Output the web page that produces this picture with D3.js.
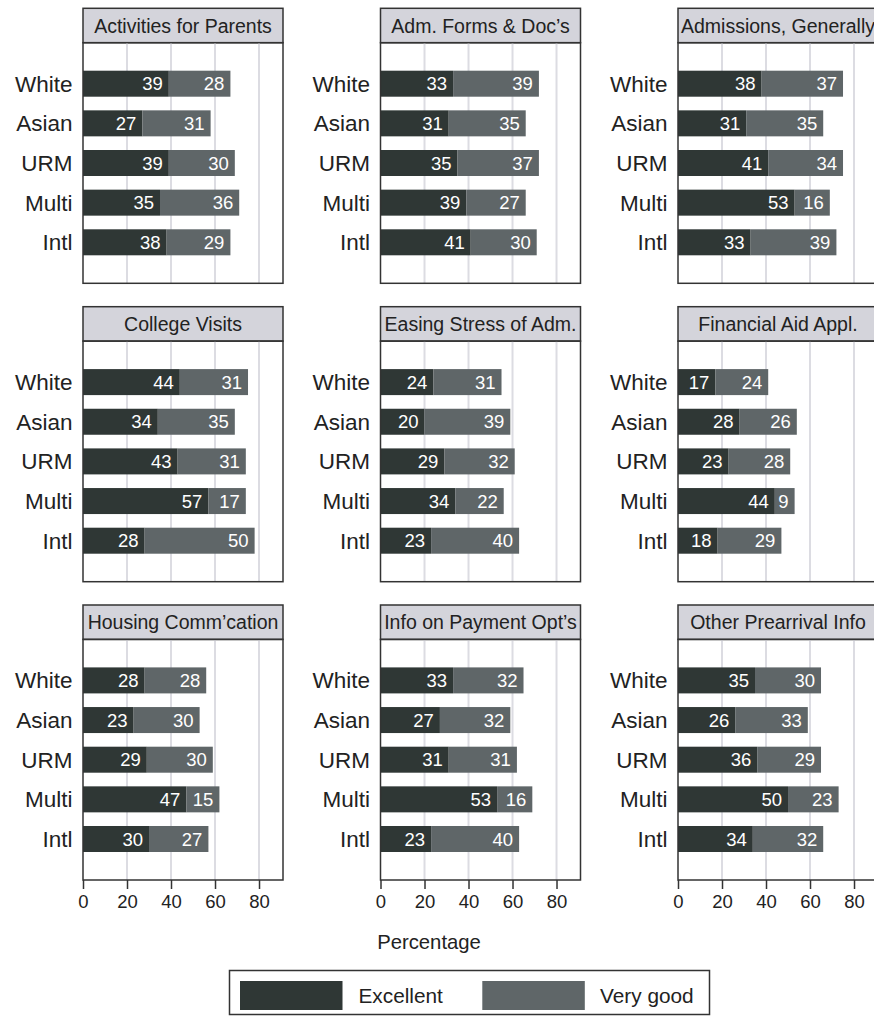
<!DOCTYPE html>
<html>
<head>
<meta charset="utf-8">
<script src="https://cdn.jsdelivr.net/npm/d3@7"></script>
<style>
  html, body { margin: 0; padding: 0; background: #fff; }
  svg { display: block; font-family: "Liberation Sans", Arial, Helvetica, sans-serif; }
</style>
</head>
<body>
<svg id="chart" width="874" height="1016"></svg>
<script>
const panels = [
  "Activities for Parents", "Adm. Forms & Doc\u2019s", "Admissions, Generally",
  "College Visits", "Easing Stress of Adm.", "Financial Aid Appl.",
  "Housing Comm\u2019cation", "Info on Payment Opt\u2019s", "Other Prearrival Info"
];
const groups = ["White", "Asian", "URM", "Multi", "Intl"];
const seriesNames = ["Excellent", "Very good"];
// per panel, per group
const excellent = [
  [39, 27, 39, 35, 38],
  [33, 31, 35, 39, 41],
  [38, 31, 41, 53, 33],
  [44, 34, 43, 57, 28],
  [24, 20, 29, 34, 23],
  [17, 28, 23, 44, 18],
  [28, 23, 29, 47, 30],
  [33, 27, 31, 53, 23],
  [35, 26, 36, 50, 34]
];
const veryGood = [
  [28, 31, 30, 36, 29],
  [39, 35, 37, 27, 30],
  [37, 35, 34, 16, 39],
  [31, 35, 31, 17, 50],
  [31, 39, 32, 22, 40],
  [24, 26, 28, 9, 29],
  [28, 30, 30, 15, 27],
  [32, 32, 31, 16, 40],
  [30, 33, 29, 23, 32]
];
const tickValues = [0, 20, 40, 60, 80];
const xAxisTitle = "Percentage";

const colors = { "Excellent": "#2f3735", "Very good": "#5f6668" };
const svg = d3.select("#chart");

const panelW = 200, headerH = 34.4, plotH = 240.6;
const colX = [83, 380.5, 678];
const rowY = [8.3, 306.7, 605];

const x = d3.scaleLinear().domain([0, 90.9]).range([0, panelW]);
const y = d3.scalePoint().domain(groups).range([0, plotH]).padding(1.034);
const barH = 26;

panels.forEach((title, i) => {
  const col = i % 3, row = Math.floor(i / 3);
  const g = svg.append("g").attr("transform", `translate(${colX[col]},${rowY[row]})`);
  // header
  g.append("rect").attr("x", 0).attr("y", 0).attr("width", panelW).attr("height", headerH)
    .attr("fill", "#d4d4db").attr("stroke", "#333").attr("stroke-width", 1.5);
  g.append("text").attr("x", panelW / 2).attr("y", headerH / 2).attr("dy", "0.36em")
    .attr("text-anchor", "middle").attr("font-size", 19.5).attr("fill", "#222").text(title);

  const p = g.append("g").attr("transform", `translate(0,${headerH})`);
  // grid
  p.selectAll("line.grid").data(tickValues.filter(t => t > 0)).join("line")
    .attr("x1", d => x(d)).attr("x2", d => x(d)).attr("y1", 0).attr("y2", plotH)
    .attr("stroke", "#dcdce2").attr("stroke-width", 2);

  // bars
  groups.forEach((grp, j) => {
    const e = excellent[i][j], v = veryGood[i][j];
    const cy = y(grp);
    p.append("rect").attr("x", x(0)).attr("y", cy - barH / 2).attr("width", x(e) - x(0)).attr("height", barH)
      .attr("fill", colors["Excellent"]);
    p.append("rect").attr("x", x(e)).attr("y", cy - barH / 2).attr("width", x(e + v) - x(e)).attr("height", barH)
      .attr("fill", colors["Very good"]);
    p.append("text").attr("x", x(e) - 6).attr("y", cy).attr("dy", "0.36em")
      .attr("text-anchor", "end").attr("font-size", 18.5).attr("fill", "#fff").text(e);
    p.append("text").attr("x", x(e + v) - 6).attr("y", cy).attr("dy", "0.36em")
      .attr("text-anchor", "end").attr("font-size", 18.5).attr("fill", "#fff").text(v);
    // category label
    p.append("text").attr("x", -10.5).attr("y", cy).attr("dy", "0.36em")
      .attr("text-anchor", "end").attr("font-size", 22.5).attr("fill", "#222").text(grp);
  });

  // frame
  p.append("rect").attr("x", 0).attr("y", 0).attr("width", panelW).attr("height", plotH)
    .attr("fill", "none").attr("stroke", "#333").attr("stroke-width", 1.5);

  if (row === 2) {
    const ax = p.append("g").attr("transform", `translate(0,${plotH})`)
      .call(d3.axisBottom(x).tickValues(tickValues).tickSize(9).tickPadding(6).tickFormat(d3.format("d")));
    ax.select(".domain").remove();
    ax.selectAll(".tick line").attr("stroke", "#333").attr("stroke-width", 1.5);
    ax.selectAll(".tick text").attr("font-size", 18.5).attr("fill", "#222")
      .attr("font-family", "Liberation Sans, Arial, sans-serif");
  }
});

// x axis title
svg.append("text").attr("x", 429).attr("y", 949).attr("text-anchor", "middle")
  .attr("font-size", 20.3).attr("fill", "#222").text(xAxisTitle);

// legend
const lg = svg.append("g");
lg.append("rect").attr("x", 229.5).attr("y", 970.5).attr("width", 480).attr("height", 44)
  .attr("fill", "#fff").attr("stroke", "#333").attr("stroke-width", 1.5);
const legendPos = [{ sx: 240, tx: 358.5 }, { sx: 482.3, tx: 600 }];
seriesNames.forEach((s, k) => {
  lg.append("rect").attr("x", legendPos[k].sx).attr("y", 981).attr("width", 102.5).attr("height", 29)
    .attr("fill", colors[s]);
  lg.append("text").attr("x", legendPos[k].tx).attr("y", 995.5).attr("dy", "0.36em")
    .attr("font-size", 20.8).attr("fill", "#222").text(s);
});
</script>
</body>
</html>
